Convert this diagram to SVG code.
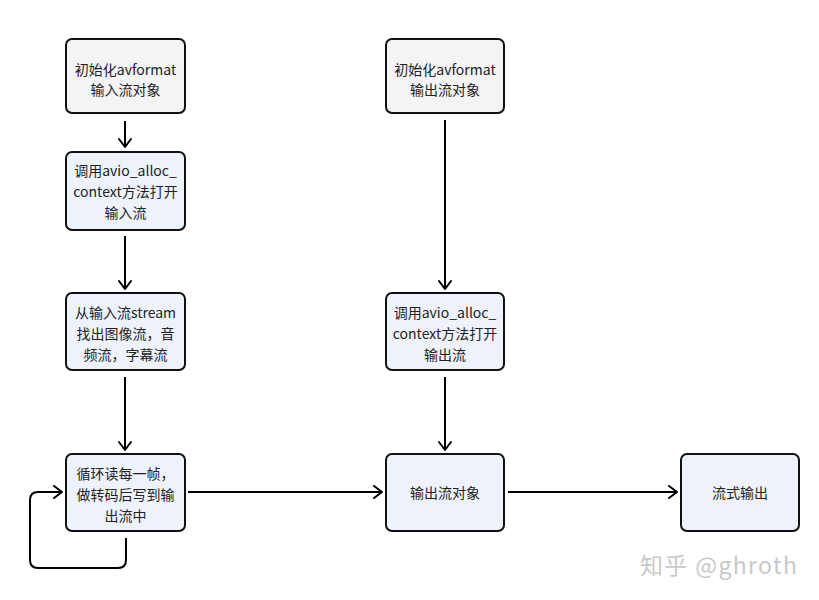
<svg xmlns="http://www.w3.org/2000/svg" width="819" height="600" viewBox="0 0 819 600">
<defs>
<marker id="arr" markerWidth="14" markerHeight="14" refX="11" refY="7" orient="auto" markerUnits="userSpaceOnUse">
<polyline points="3,1 11,7 3,13" fill="none" stroke="#000" stroke-width="2" stroke-linecap="round" stroke-linejoin="round"/>
</marker>
<style>
.n rect{stroke:#111;stroke-width:2}
.g rect{fill:#f4f4f4}
.b rect{fill:#eef2fb}
.n text{font-family:"Noto Sans CJK SC","Noto Sans",sans-serif;font-size:14px;fill:#222;text-anchor:middle}
.c path{fill:none;stroke:#000;stroke-width:2;marker-end:url(#arr)}
</style>
</defs>
<rect width="819" height="600" fill="#fff"/>
<g class="c" id="connectors">
<path d="M125 121 V147"/>
<path d="M125 236 V289"/>
<path d="M125 377 V450"/>
<path d="M445 120 V289"/>
<path d="M445 377 V450"/>
<path d="M188 492 H382"/>
<path d="M508 492 H677"/>
<path d="M126 538 V560 Q126 568 118 568 H38 Q30 568 30 560 V500 Q30 492 38 492 H62"/>
</g>
<g id="n1" class="n g"><rect x="66" y="39" width="119" height="74" rx="6"/><text x="125.5" y="75">初始化avformat</text><text x="125.5" y="95">输入流对象</text></g>
<g id="n2" class="n b"><rect x="66" y="152" width="119" height="78" rx="6"/><text x="125.5" y="176">调用avio_alloc_</text><text x="125.5" y="197">context方法打开</text><text x="125.5" y="218">输入流</text></g>
<g id="n3" class="n b"><rect x="66" y="293" width="119" height="77" rx="6"/><text x="125.5" y="318">从输入流stream</text><text x="125.5" y="339">找出图像流，音</text><text x="125.5" y="360">频流，字幕流</text></g>
<g id="n4" class="n b"><rect x="66" y="454" width="119" height="77" rx="6"/><text x="125.5" y="479">循环读每一帧，</text><text x="125.5" y="500">做转码后写到输</text><text x="125.5" y="521">出流中</text></g>
<g id="n5" class="n g"><rect x="386" y="39" width="118" height="74" rx="6"/><text x="445" y="75">初始化avformat</text><text x="445" y="95">输出流对象</text></g>
<g id="n6" class="n b"><rect x="386" y="293" width="118" height="77" rx="6"/><text x="445" y="318">调用avio_alloc_</text><text x="445" y="339">context方法打开</text><text x="445" y="360">输出流</text></g>
<g id="n7" class="n b"><rect x="386" y="454" width="118" height="77" rx="6"/><text x="445" y="498">输出流对象</text></g>
<g id="n8" class="n b"><rect x="681" y="454" width="118" height="77" rx="6"/><text x="740" y="498">流式输出</text></g>
<text x="640" y="574" font-family="'Noto Sans CJK SC','Noto Sans',sans-serif" font-size="23" fill="#c8c8c8" textLength="157" lengthAdjust="spacing">知乎 @ghroth</text>
</svg>
